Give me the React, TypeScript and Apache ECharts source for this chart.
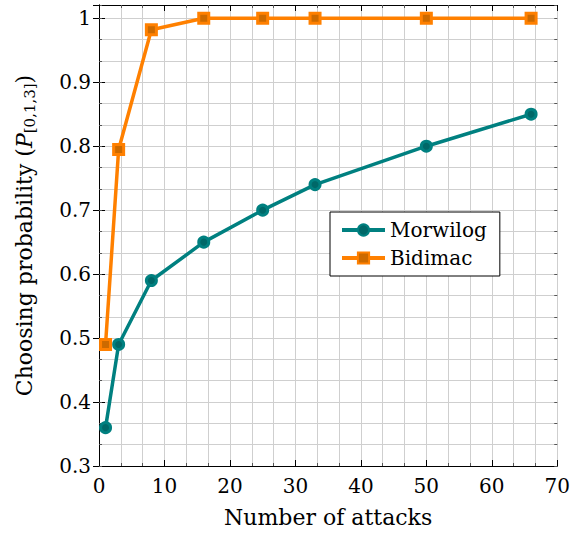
import React, { useEffect, useRef } from "react";
import * as echarts from "echarts";

const attacks = [1, 3, 8, 16, 25, 33, 50, 66];
const morwilog = [0.36, 0.49, 0.59, 0.65, 0.70, 0.74, 0.80, 0.85];
const bidimac = [0.49, 0.795, 0.982, 1.0, 1.0, 1.0, 1.0, 1.0];
const seriesNames = ["Morwilog", "Bidimac"];
const xLabel = "Number of attacks";

const FONT = "DejaVu Serif";
const FS = 20;
const NFS = 22;
const GRID_COLOR = "#cfcfcf";

export default function App() {
  const ref = useRef<HTMLDivElement>(null);
  useEffect(() => {
    if (!ref.current) return;
    const chart = echarts.init(ref.current, null, { renderer: "svg" });
    const yMin = 0.3;
    const yMax = 1.0208;
    const minorY = 0.1 / 3;
    const hiddenAxisY = (pos: string, interval: number, tickLen: number, split: boolean, line: boolean) => ({
      type: "value",
      position: pos,
      min: yMin,
      max: yMax,
      interval,
      axisLine: { show: line, lineStyle: { color: "#000", width: 1 } },
      axisTick: { show: true, inside: true, length: tickLen, lineStyle: { color: tickLen > 4 ? "#000" : "#555", width: 1 } },
      axisLabel: { show: false },
      splitLine: { show: split, lineStyle: { color: GRID_COLOR, width: 1 } },
    });
    chart.setOption({
      animation: false,
      backgroundColor: "#fff",
      grid: { left: 99, right: 12, top: 5, bottom: 66 },
      legend: {
        data: seriesNames.map((n) => ({ name: n, lineStyle: { width: 4 } })),
        orient: "vertical",
        left: 330,
        top: 212,
        backgroundColor: "#fff",
        borderColor: "#000",
        borderWidth: 1,
        borderRadius: 0,
        padding: [8, 13, 8, 10],
        itemWidth: 43,
        itemHeight: 14,
        itemGap: 8,
        lineStyle: { width: 4 },
        textStyle: { fontFamily: FONT, fontSize: FS, color: "#000" },
      },
      xAxis: [
        {
          type: "value",
          position: "bottom",
          min: 0,
          max: 70,
          interval: 10,
          name: xLabel,
          nameLocation: "middle",
          nameGap: 40,
          nameTextStyle: { fontFamily: FONT, fontSize: NFS, color: "#000" },
          axisLine: { show: true, onZero: false, lineStyle: { color: "#000", width: 1 } },
          axisTick: { show: true, inside: true, length: 6, lineStyle: { color: "#000" } },
          minorTick: { show: true, splitNumber: 3, length: 3, lineStyle: { color: "#555" } },
          axisLabel: { fontFamily: FONT, fontSize: FS, color: "#000", margin: 10 },
          splitLine: { show: true, lineStyle: { color: GRID_COLOR, width: 1 } },
          minorSplitLine: { show: true, lineStyle: { color: GRID_COLOR, width: 1 } },
        },
        {
          type: "value",
          position: "top",
          min: 0,
          max: 70,
          interval: 10,
          axisLine: { show: true, onZero: false, lineStyle: { color: "#000", width: 1 } },
          axisTick: { show: true, inside: true, length: 6, lineStyle: { color: "#000" } },
          minorTick: { show: true, splitNumber: 3, length: 3, lineStyle: { color: "#555" } },
          axisLabel: { show: false },
          splitLine: { show: false },
        },
      ],
      yAxis: [
        {
          type: "value",
          position: "left",
          min: yMin,
          max: yMax,
          interval: 0.1,
          name: "Choosing probability ({it|P}{sub|[0,1,3]})",
          nameLocation: "middle",
          nameGap: 62,
          nameTextStyle: {
            fontFamily: FONT,
            fontSize: NFS,
            color: "#000",
            rich: {
              it: { fontFamily: FONT, fontSize: NFS, fontStyle: "italic", color: "#000" },
              sub: { fontFamily: FONT, fontSize: 15, color: "#000", padding: [11, 0, 0, 0] },
            },
          },
          axisLine: { show: true, onZero: false, lineStyle: { color: "#000", width: 1 } },
          axisTick: { show: true, inside: true, length: 6, lineStyle: { color: "#000" } },
          axisLabel: {
            fontFamily: FONT,
            fontSize: FS,
            color: "#000",
            margin: 8,
            showMaxLabel: false,
            formatter: (v: number) => {
              const r = Math.round(v * 10) / 10;
              if (Math.abs(v - r) > 1e-6) return "";
              return String(Number(r.toFixed(1)));
            },
          },
          splitLine: { show: false },
        },
        hiddenAxisY("left", minorY, 3, true, false),
        hiddenAxisY("right", 0.1, 6, false, true),
        hiddenAxisY("right", minorY, 3, false, false),
      ],
      series: [
        {
          name: seriesNames[0],
          type: "line",
          data: attacks.map((x, i) => [x, morwilog[i]]),
          symbol: "circle",
          symbolSize: 10,
          showAllSymbol: true,
          lineStyle: { color: "#008080", width: 3.5 },
          itemStyle: { color: "#006868", borderColor: "#008080", borderWidth: 3 },
          z: 3,
        },
        {
          name: seriesNames[1],
          type: "line",
          data: attacks.map((x, i) => [x, bidimac[i]]),
          symbol: "rect",
          symbolSize: 10,
          showAllSymbol: true,
          lineStyle: { color: "#ff8000", width: 3.5 },
          itemStyle: { color: "#cc6a00", borderColor: "#ff8000", borderWidth: 3 },
          z: 4,
        },
      ],
    });
    return () => chart.dispose();
  }, []);
  return <div ref={ref} style={{ width: 573, height: 533, position: "absolute", left: 0, top: 0 }} />;
}
